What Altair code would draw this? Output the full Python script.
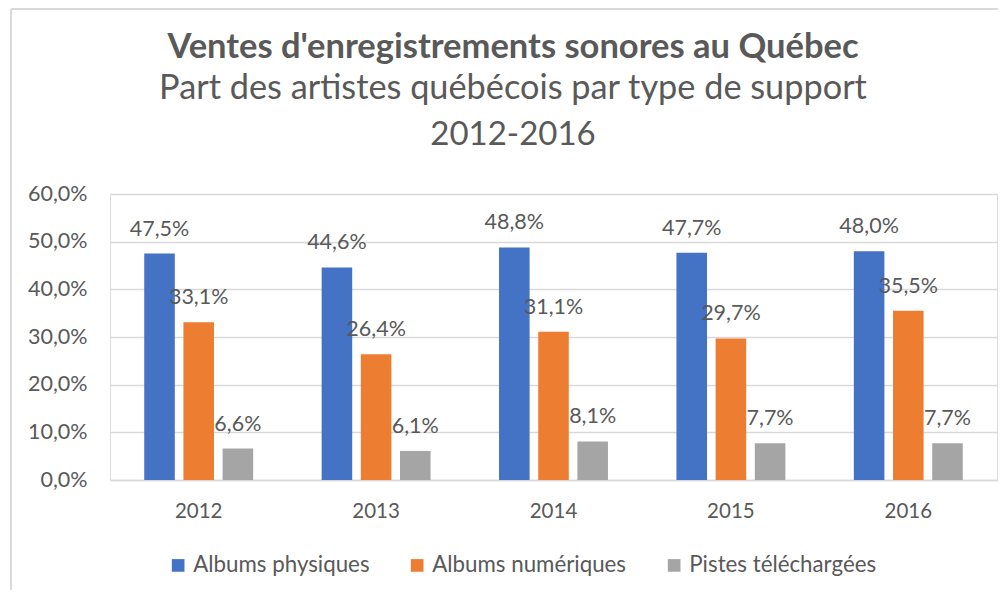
import altair as alt
import pandas as pd

years = ["2012", "2013", "2014", "2015", "2016"]
series = ["Albums physiques", "Albums numériques", "Pistes téléchargées"]
physiques = [47.5, 44.6, 48.8, 47.7, 48.0]
numeriques = [33.1, 26.4, 31.1, 29.7, 35.5]
pistes = [6.6, 6.1, 8.1, 7.7, 7.7]
colors = ["#4472C4", "#ED7D31", "#A5A5A5"]
title_lines = ["Ventes d'enregistrements sonores au Québec",
               "Part des artistes québécois par type de support",
               "2012-2016"]
y_ticks = [0, 10, 20, 30, 40, 50, 60]

rows = []
for s, vals in zip(series, [physiques, numeriques, pistes]):
    for y, v in zip(years, vals):
        rows.append({"year": y, "series": s, "value": v})
df = pd.DataFrame(rows)

FONT = "Lato"
TXT = "#595959"

base = alt.Chart(df).encode(
    x=alt.X("year:N", sort=years,
            scale=alt.Scale(paddingInner=0.386, paddingOuter=0.193),
            axis=alt.Axis(title=None, labelAngle=0, labelFontSize=20.5, labelColor=TXT,
                          labelFont=FONT, ticks=False, domainColor="#d9d9d9",
                          domainWidth=1.5, labelPadding=21)),
    xOffset=alt.XOffset("series:N", sort=series,
                        scale=alt.Scale(paddingInner=0.22, paddingOuter=0)),
    y=alt.Y("value:Q", scale=alt.Scale(domain=[0, 60], nice=False),
            axis=alt.Axis(title=None, values=y_ticks, grid=True, gridColor="#d9d9d9",
                          gridWidth=1.5, domain=False, ticks=False, labelFontSize=21.5,
                          labelColor=TXT, labelFont=FONT, labelPadding=23,
                          labelExpr="replace(format(datum.value, '.1f'), '.', ',') + '%'")),
)

bars = base.mark_bar().encode(
    color=alt.Color("series:N", sort=series,
                    scale=alt.Scale(domain=series, range=colors),
                    legend=alt.Legend(title=None, orient="none", direction="horizontal",
                                      legendX=57, legendY=360, padding=0,
                                      symbolType="square",
                                      symbolSize=160, symbolStrokeWidth=0,
                                      labelFontSize=22.3, labelColor=TXT, labelFont=FONT,
                                      labelOffset=4, columnPadding=36, labelLimit=0))
)

labels = base.transform_calculate(
    lab="replace(format(datum.value, '.1f'), '.', ',') + '%'"
).mark_text(baseline="alphabetic", dy=-18, fontSize=21.5, font=FONT, color=TXT).encode(
    text="lab:N"
)

tdf = pd.DataFrame({"t": title_lines, "i": [0, 1, 2]})
title1 = alt.Chart(tdf).transform_filter("datum.i == 0").mark_text(
    font=FONT, fontSize=34.5, fontWeight="bold", color=TXT, baseline="alphabetic", align="center"
).encode(text="t:N", x=alt.value(403), y=alt.value(-136))
title2 = alt.Chart(tdf).transform_filter("datum.i == 1").mark_text(
    font=FONT, fontSize=34.3, color=TXT, baseline="alphabetic", align="center"
).encode(text="t:N", x=alt.value(403), y=alt.value(-95))
title3 = alt.Chart(tdf).transform_filter("datum.i == 2").mark_text(
    font=FONT, fontSize=33, color=TXT, baseline="alphabetic", align="center"
).encode(text="t:N", x=alt.value(403), y=alt.value(-49))

left_border = alt.Chart(tdf).transform_filter("datum.i == 0").mark_rule(
    color="#d9d9d9", strokeWidth=2
).encode(x=alt.value(-99), y=alt.value(-185), y2=alt.value(400))
top_border = alt.Chart(tdf).transform_filter("datum.i == 0").mark_rule(
    color="#d9d9d9", strokeWidth=2
).encode(x=alt.value(-99), x2=alt.value(900), y=alt.value(-185))

chart = alt.layer(left_border, top_border, bars, labels, title1, title2, title3).properties(
    width=887, height=286,
    autosize=alt.AutoSizeParams(type="none"),
    padding={"left": 102, "top": 186, "right": 1, "bottom": 110},
).configure_view(stroke=None).configure(background="white")

chart.save("out.html", embed_options={"renderer": "svg", "actions": False})
